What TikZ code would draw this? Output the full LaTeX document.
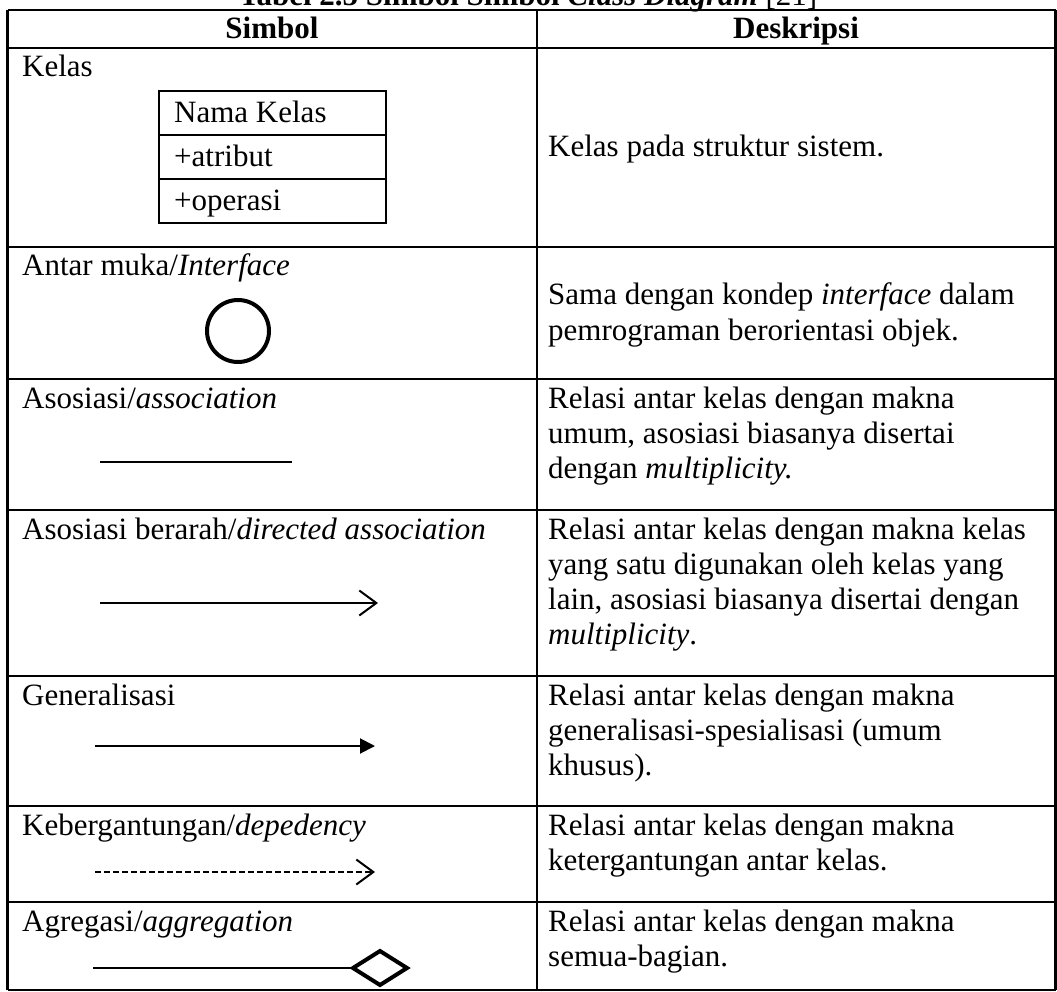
\documentclass[tikz,border=0pt]{standalone}
\usepackage{fontspec}
\setmainfont{Liberation Serif}
\usetikzlibrary{arrows.meta}
\begin{document}
\begin{tikzpicture}[x=1pt,y=-1pt,
  grid/.style={line width=2.3pt},
  txt/.style={anchor=base west, inner sep=0pt, font=\fontsize{31}{35}\selectfont},
  hdr/.style={anchor=base, inner sep=0pt, font=\fontsize{31}{35}\selectfont\bfseries},
  sym/.style={line width=2pt},
  openhead/.style={-{Straight Barb[length=17pt,width=25pt,line width=2pt]}},
  fillhead/.style={-{Triangle[length=15pt,width=15pt]}}]
\useasboundingbox (0,0) rectangle (1057,992);
\clip (0,0) rectangle (1057,992);
% title
\node[hdr] (title) at (528,6) {Tabel 2.5 Simbol Simbol \textit{Class Diagram} \mdseries[21]};
% table grid
\foreach \yy in {10,48,247,379,510,676,806,902,990}
  \draw[grid] (7.5,\yy) -- (1055.5,\yy);
\foreach \xx in {7.5,537,1055.5}
  \draw[grid] (\xx,10) -- (\xx,990);
% header
\node[hdr] (h1) at (272,39) {Simbol};
\node[hdr] (h2) at (796,39) {Deskripsi};
% row 1: class
\node[txt] (l1) at (22,77) {Kelas};
\draw[line width=2.4pt] (159,91) rectangle (386,223);
\draw[line width=2.4pt] (159,135) -- (386,135);
\draw[line width=2.4pt] (159,179) -- (386,179);
\node[txt] (c1) at (174,123) {Nama Kelas};
\node[txt] (c2) at (174,167) {+atribut};
\node[txt] (c3) at (174,211) {+operasi};
\node[txt] (d1) at (548,157) {Kelas pada struktur sistem.};
% row 2: interface
\node[txt] (l2) at (22,276) {Antar muka/\textit{Interface}};
\draw[line width=4pt] (238,331) circle (31);
\node[txt] (d2a) at (548,305) {Sama dengan kondep \textit{interface} dalam};
\node[txt] (d2b) at (548,340) {pemrograman berorientasi objek.};
% row 3: association
\node[txt] (l3) at (22,408) {Asosiasi/\textit{association}};
\coordinate (a3s) at (100,462);
\coordinate (a3e) at (292,462);
\draw[sym] (a3s) -- (a3e);
\node[txt] (d3a) at (548,408) {Relasi antar kelas dengan makna};
\node[txt] (d3b) at (548,443) {umum, asosiasi biasanya disertai};
\node[txt] (d3c) at (548,478) {dengan \textit{multiplicity.}};
% row 4: directed association
\node[txt] (l4) at (22,539) {Asosiasi berarah/\textit{directed association}};
\coordinate (a4s) at (100,603);
\coordinate (a4e) at (378,603);
\draw[sym,openhead] (a4s) -- (a4e);
\node[txt] (d4a) at (548,539) {Relasi antar kelas dengan makna kelas};
\node[txt] (d4b) at (548,574) {yang satu digunakan oleh kelas yang};
\node[txt] (d4c) at (548,609) {lain, asosiasi biasanya disertai dengan};
\node[txt] (d4d) at (548,644) {\textit{multiplicity}.};
% row 5: generalization
\node[txt] (l5) at (22,705) {Generalisasi};
\coordinate (a5s) at (95,746);
\coordinate (a5e) at (375,746);
\draw[sym,fillhead] (a5s) -- (a5e);
\node[txt] (d5a) at (548,705) {Relasi antar kelas dengan makna};
\node[txt] (d5b) at (548,740) {generalisasi-spesialisasi (umum};
\node[txt] (d5c) at (548,775) {khusus).};
% row 6: dependency
\node[txt] (l6) at (22,835) {Kebergantungan/\textit{depedency}};
\coordinate (a6s) at (95,872);
\coordinate (a6e) at (375,872);
\draw[sym,dash pattern=on 6pt off 3pt,openhead] (a6s) -- (a6e);
\node[txt] (d6a) at (548,835) {Relasi antar kelas dengan makna};
\node[txt] (d6b) at (548,870) {ketergantungan antar kelas.};
% row 7: aggregation
\node[txt] (l7) at (22,931) {Agregasi/\textit{aggregation}};
\coordinate (a7s) at (93,968);
\coordinate (a7e) at (353,968);
\draw[sym] (a7s) -- (a7e);
\draw[line width=4pt,line join=miter,fill=white] (a7e) -- (380,951) -- (407,968) -- (380,985) -- cycle;
\node[txt] (d7a) at (548,931) {Relasi antar kelas dengan makna};
\node[txt] (d7b) at (548,966) {semua-bagian.};
\end{tikzpicture}
\end{document}
